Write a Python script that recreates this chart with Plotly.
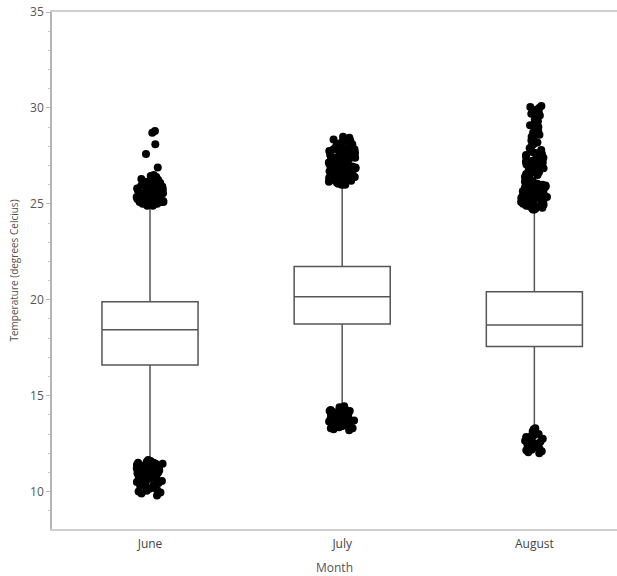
import plotly.graph_objects as go

months = ["June", "July", "August"]
q1 = [16.60, 18.74, 17.56]
median = [18.43, 20.16, 18.69]
q3 = [19.90, 21.73, 20.42]
lowerfence = [11.65, 14.43, 13.22]
upperfence = [24.85, 25.98, 24.68]

june_out = [24.9, 24.9, 24.95, 24.95, 25.0, 25.0, 25.0, 25.05, 25.05, 25.1, 25.1, 25.1, 25.15,
            25.15, 25.2, 25.2, 25.2, 25.25, 25.25, 25.3, 25.3, 25.3, 25.35, 25.35, 25.4, 25.4,
            25.4, 25.45, 25.45, 25.5, 25.5, 25.5, 25.55, 25.55, 25.6, 25.6, 25.6, 25.65, 25.65,
            25.7, 25.7, 25.7, 25.75, 25.75, 25.8, 25.8, 25.8, 25.85, 25.85, 25.9, 25.9, 25.95,
            25.95, 26.0, 26.0, 26.05, 26.05, 26.1, 26.1, 26.15, 26.2, 26.2, 26.25, 26.3, 26.35,
            26.4, 26.45, 26.5, 26.9, 27.6, 28.1, 28.7, 28.8,
            11.65, 11.6, 11.6, 11.55, 11.5, 11.5, 11.45, 11.45, 11.4, 11.4, 11.35, 11.35, 11.3,
            11.3, 11.3, 11.25, 11.25, 11.2, 11.2, 11.2, 11.15, 11.15, 11.1, 11.1, 11.1, 11.05,
            11.05, 11.0, 11.0, 11.0, 10.95, 10.95, 10.9, 10.9, 10.85, 10.85, 10.8, 10.8, 10.75,
            10.75, 10.7, 10.7, 10.65, 10.6, 10.6, 10.55, 10.5, 10.5, 10.45, 10.4, 10.35, 10.3,
            10.25, 10.2, 10.15, 10.1, 10.05, 10.0, 9.95, 9.9, 9.8]
july_out = [26.0, 26.0, 26.05, 26.05, 26.1, 26.1, 26.15, 26.15, 26.2, 26.2, 26.25, 26.25, 26.3,
            26.3, 26.35, 26.35, 26.4, 26.4, 26.45, 26.45, 26.5, 26.5, 26.55, 26.55, 26.6, 26.6,
            26.65, 26.65, 26.7, 26.7, 26.75, 26.75, 26.8, 26.8, 26.85, 26.85, 26.9, 26.9, 26.95,
            26.95, 27.0, 27.0, 27.05, 27.05, 27.1, 27.1, 27.15, 27.15, 27.2, 27.2, 27.25, 27.25,
            27.3, 27.3, 27.35, 27.35, 27.4, 27.4, 27.45, 27.45, 27.5, 27.5, 27.55, 27.55, 27.6,
            27.6, 27.65, 27.65, 27.7, 27.7, 27.75, 27.75, 27.8, 27.8, 27.85, 27.85, 27.9, 27.9,
            27.95, 28.0, 28.0, 28.05, 28.1, 28.15, 28.2, 28.25, 28.3, 28.35, 28.4, 28.45, 28.5,
            14.45, 14.4, 14.35, 14.3, 14.3, 14.25, 14.2, 14.2, 14.15, 14.1, 14.1, 14.05, 14.0,
            14.0, 13.95, 13.9, 13.9, 13.85, 13.8, 13.8, 13.75, 13.7, 13.7, 13.65, 13.6, 13.6,
            13.55, 13.5, 13.5, 13.45, 13.4, 13.4, 13.35, 13.3, 13.3, 13.25, 13.2]
august_out = [24.7, 24.7, 24.75, 24.75, 24.8, 24.8, 24.85, 24.85, 24.9, 24.9, 24.95, 24.95, 25.0,
              25.0, 25.05, 25.05, 25.1, 25.1, 25.15, 25.15, 25.2, 25.2, 25.25, 25.25, 25.3, 25.3,
              25.35, 25.35, 25.4, 25.4, 25.45, 25.45, 25.5, 25.5, 25.55, 25.55, 25.6, 25.6, 25.65,
              25.7, 25.7, 25.75, 25.8, 25.8, 25.85, 25.9, 25.9, 25.95, 26.0, 26.0, 26.05, 26.1,
              26.15, 26.2, 26.25, 26.3, 26.35, 26.4, 26.45, 26.5, 26.55, 26.6, 26.65, 26.7, 26.75,
              26.8, 26.85, 26.9, 26.95, 27.0, 27.05, 27.1, 27.15, 27.2, 27.25, 27.3, 27.35, 27.4,
              27.45, 27.5, 27.55, 27.6, 27.65, 27.7, 27.8, 27.9, 28.0, 28.1, 28.2, 28.3, 28.4,
              28.5, 28.6, 28.7, 28.8, 28.9, 29.0, 29.1, 29.2, 29.3, 29.4, 29.5, 29.6, 29.7, 29.8,
              29.9, 30.0, 30.05, 30.1,
              13.3, 13.25, 13.2, 13.15, 13.1, 13.05, 13.0, 12.95, 12.9, 12.85, 12.8, 12.75, 12.7,
              12.65, 12.6, 12.55, 12.5, 12.45, 12.4, 12.35, 12.3, 12.25, 12.2, 12.15, 12.1, 12.05,
              12.0]

outliers = {"June": june_out, "July": july_out, "August": august_out}

fig = go.Figure()
fig.add_trace(go.Box(
    x=months, q1=q1, median=median, q3=q3,
    lowerfence=lowerfence, upperfence=upperfence,
    boxpoints=False, width=0.5, whiskerwidth=0,
    line=dict(color="#555555", width=1.5),
    fillcolor="rgba(255,255,255,0)",
    showlegend=False, hoverinfo="skip",
))
for m in months:
    vals = outliers[m]
    fig.add_trace(go.Box(
        x=[m] * len(vals), y=vals,
        boxpoints="all", jitter=0.28, pointpos=0, width=0.5, whiskerwidth=0,
        line=dict(width=0, color="rgba(0,0,0,0)"),
        fillcolor="rgba(0,0,0,0)",
        marker=dict(color="black", size=8),
        showlegend=False,
    ))

fig.update_layout(
    width=617, height=576,
    margin=dict(l=52, r=0, t=12, b=47),
    paper_bgcolor="white", plot_bgcolor="white",
    boxmode="overlay",
    font=dict(family="Open Sans, DejaVu Sans, sans-serif", color="#555555", size=12),
)
fig.update_xaxes(
    type="category", categoryorder="array", categoryarray=months,
    range=[-0.51, 2.43], automargin=False,
    showline=True, mirror=True, linecolor="#cfcfcf", linewidth=2,
    showgrid=False, zeroline=False,
    ticks="outside", ticklen=3, tickcolor="rgba(0,0,0,0)",
    tickfont=dict(size=12, color="#444444"),
    title=dict(text="Month", font=dict(size=12, color="#555555"), standoff=12),
)
fig.update_yaxes(
    range=[8.05, 35], tickvals=[10, 15, 20, 25, 30, 35], automargin=False,
    ticklabeloverflow="allow",
    showline=True, linecolor="#b5b5b5", linewidth=1.5,
    showgrid=False, zeroline=False,
    ticks="outside", ticklen=4, tickcolor="#b5b5b5",
    minor=dict(ticks="outside", ticklen=2, tickcolor="#c8c8c8", dtick=1),
    tickfont=dict(size=12, color="#555555"),
    title=dict(text="Temperature (degrees Celcius)", font=dict(size=10, color="#5a5048"), standoff=10),
)

fig.write_html(
    "out.html",
    config={"displayModeBar": False},
    post_script="document.body.style.margin='0';document.body.style.overflow='hidden';",
)
